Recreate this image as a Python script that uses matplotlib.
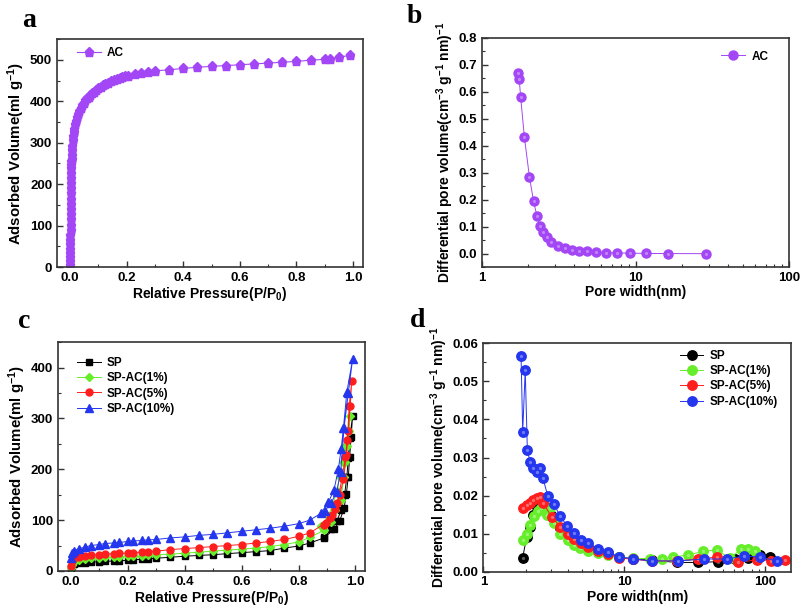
import matplotlib
matplotlib.use('Agg')
import matplotlib.pyplot as plt
from matplotlib import ticker

plt.rcParams['font.family'] = ['Liberation Sans', 'DejaVu Sans']
plt.rcParams['font.weight'] = 'bold'
plt.rcParams['axes.labelweight'] = 'bold'
plt.rcParams['mathtext.fontset'] = 'custom'
plt.rcParams['mathtext.rm'] = 'Liberation Sans:bold'
plt.rcParams['mathtext.bf'] = 'Liberation Sans:bold'
plt.rcParams['mathtext.default'] = 'rm'

# ---- panel a: AC isotherm ----
ac_p = [0.0002, 0.0004, 0.0006, 0.0008, 0.0010, 0.0012, 0.0014, 0.0016, 0.0018, 0.0020,
        0.0022, 0.0024, 0.0026, 0.0028, 0.0030, 0.0032, 0.0034, 0.0036, 0.0038, 0.0040,
        0.0043, 0.0046, 0.0050, 0.0055, 0.0060, 0.0070, 0.0080, 0.0095, 0.011, 0.013,
        0.015, 0.018, 0.021, 0.025, 0.029, 0.033, 0.038, 0.043, 0.048, 0.054,
        0.060, 0.066, 0.072, 0.078, 0.085, 0.092, 0.100, 0.108, 0.116, 0.125,
        0.135, 0.145, 0.155, 0.165, 0.175, 0.185, 0.195, 0.205, 0.23, 0.25,
        0.275, 0.30, 0.35, 0.40, 0.45, 0.50, 0.55, 0.60, 0.65, 0.70,
        0.75, 0.80, 0.85, 0.90, 0.92, 0.95, 0.99]
ac_v = [5, 15, 25, 35, 45, 55, 65, 78, 90, 102,
        115, 128, 140, 152, 165, 178, 190, 202, 215, 228,
        238, 246, 255, 262, 270, 282, 293, 306, 316, 326,
        334, 346, 353, 362, 370, 376, 383, 390, 396, 402,
        407, 411, 415, 419, 423, 427, 431, 435, 438, 441,
        445, 448, 451, 453, 456, 458, 460, 462, 466, 468,
        471, 473, 476, 479, 482, 484, 486, 488, 490, 492,
        494, 496, 499, 501, 503, 506, 511]

# ---- panel b: AC pore size distribution ----
ac_w = [1.72, 1.75, 1.79, 1.89, 2.04, 2.17, 2.28, 2.39, 2.51, 2.64, 2.82, 3.12, 3.48,
        3.84, 4.31, 4.81, 5.53, 6.38, 7.53, 9.19, 11.7, 16.2, 28.9]
ac_dv = [0.669, 0.649, 0.579, 0.434, 0.285, 0.195, 0.141, 0.103, 0.079, 0.062, 0.042,
         0.028, 0.021, 0.015, 0.011, 0.009, 0.006, 0.004, 0.003, 0.002, 0.001, 0.0005, 0.0]

# ---- panel c: SP composites isotherms (adsorption + desorption) ----
c_low_p = [0.001, 0.005, 0.01, 0.03, 0.05, 0.07, 0.10, 0.12, 0.15, 0.17, 0.20, 0.22, 0.25,
           0.27, 0.30, 0.35, 0.40, 0.45, 0.50, 0.55, 0.60, 0.65, 0.70, 0.75, 0.80]
sp_low = [5, 10, 13, 15, 16, 17.5, 18, 19, 19.5, 20, 21, 22, 23,
          23.5, 25, 27, 29, 30.5, 32, 34, 36, 38, 40, 45, 49]
ac1_low = [5, 12, 18, 21, 24, 25, 26, 27, 27, 28, 29, 29, 30,
           31, 32, 33, 35, 37, 39, 41, 43, 45, 48, 52, 57]
ac5_low = [10, 20, 25, 28, 30, 31, 32, 33, 34, 34.5, 35, 36, 37,
           38, 39, 42, 44, 46, 48, 50, 52, 55, 58, 62, 68]
ac10_low = [25, 35, 40, 44, 47, 50, 52, 54, 55, 56, 58, 59, 60,
            61, 62, 65, 67, 70, 72, 75, 78, 81, 84, 88, 93]

sp_hi_p = [0.84, 0.89, 0.925, 0.945, 0.96, 0.968, 0.975, 0.98, 0.985, 0.99,
           0.98, 0.975, 0.97, 0.962, 0.95, 0.935, 0.915, 0.89]
sp_hi = [55, 65, 82, 99, 123, 151, 185, 225, 264, 304,
         262, 222, 185, 150, 120, 98, 82, 66]
ac1_hi_p = [0.84, 0.89, 0.915, 0.93, 0.948, 0.96, 0.965, 0.97, 0.977, 0.98,
            0.975, 0.965, 0.955, 0.945, 0.935, 0.92, 0.905, 0.88]
ac1_hi = [66, 80, 97, 120, 139, 185, 215, 245, 275, 304,
          276, 245, 215, 185, 158, 130, 108, 88]
ac5_hi_p = [0.84, 0.895, 0.917, 0.936, 0.954, 0.965, 0.972, 0.978, 0.987,
            0.982, 0.975, 0.968, 0.958, 0.945, 0.93, 0.91, 0.89]
ac5_hi = [75, 94, 110, 133, 186, 225, 258, 324, 373,
          325, 276, 228, 180, 150, 122, 104, 90]
ac10_hi_p = [0.84, 0.892, 0.915, 0.934, 0.948, 0.96, 0.975, 0.99,
             0.97, 0.958, 0.95, 0.94, 0.925, 0.905, 0.88]
ac10_hi = [100, 118, 134, 155, 195, 281, 350, 416,
           352, 282, 240, 200, 160, 135, 115]

# ---- panel d: SP composites pore size distributions ----
sp_w = [1.90, 2.03, 2.14, 2.26, 2.39, 2.52, 2.64, 3.0, 3.17, 3.5, 3.91, 4.36, 4.91, 5.55,
        6.54, 7.7, 9.2, 11.6, 15.6, 23.5, 33.5, 46.4, 61, 75.7, 91.7, 108]
sp_dv = [0.0037, 0.0092, 0.0118, 0.0150, 0.0170, 0.0180, 0.0178, 0.0150, 0.0140, 0.0114,
         0.0102, 0.0085, 0.0075, 0.0065, 0.0055, 0.0048, 0.0038, 0.0033, 0.0030, 0.0024,
         0.0024, 0.0026, 0.0033, 0.0035, 0.0044, 0.0039]
ac1_w = [1.90, 2.03, 2.14, 2.29, 2.42, 2.55, 2.82, 2.97, 3.17, 3.5, 3.95, 4.36, 4.85, 5.55,
         6.45, 7.7, 9.2, 11.6, 15.2, 18.4, 22.3, 28.5, 36.3, 45.2, 56.2, 67.3, 75.8, 84.5]
ac1_dv = [0.0083, 0.0099, 0.0123, 0.0145, 0.0159, 0.0166, 0.0149, 0.0166, 0.0127, 0.0099,
          0.0083, 0.0070, 0.0062, 0.0053, 0.0048, 0.0044, 0.0038, 0.0035, 0.0034, 0.0033,
          0.0038, 0.0044, 0.0053, 0.0057, 0.0035, 0.0059, 0.0060, 0.0054]
ac5_w = [1.90, 2.03, 2.14, 2.26, 2.39, 2.52, 2.64, 3.05, 3.5, 3.95, 4.4, 4.9, 5.55, 6.5,
         7.7, 9.2, 11.6, 15.6, 23.5, 33.5, 45.2, 64.4, 86.9, 110, 138]
ac5_dv = [0.0168, 0.0174, 0.0180, 0.0188, 0.0193, 0.0197, 0.0181, 0.0144, 0.0118, 0.0099,
          0.0085, 0.0075, 0.0065, 0.0055, 0.0047, 0.0036, 0.0032, 0.0028, 0.0028, 0.0033,
          0.0038, 0.0024, 0.0031, 0.0029, 0.0030]
ac10_w = [1.85, 1.90, 1.98, 2.05, 2.14, 2.26, 2.39, 2.52, 2.64, 2.86, 3.17, 3.50, 3.91,
          4.36, 4.91, 5.55, 6.54, 7.7, 9.2, 11.6, 15.6, 24.2, 36.9, 53.2, 70.6, 91.7, 120.5]
ac10_dv = [0.0567, 0.0368, 0.0530, 0.0320, 0.0289, 0.0272, 0.0263, 0.0272, 0.0247, 0.0199,
           0.0177, 0.0146, 0.0121, 0.0101, 0.0083, 0.0075, 0.0059, 0.0051, 0.0039, 0.0033,
           0.0028, 0.0028, 0.0033, 0.0033, 0.0041, 0.0038, 0.0028]

purple = '#a346f5'
black, green, red, blue = '#000000', '#66ee2a', '#ff1e1e', '#2436ee'

fig = plt.figure(figsize=(8.03, 6.10), dpi=100)
ax_a = fig.add_axes([0.071, 0.562, 0.381, 0.374])
ax_b = fig.add_axes([0.600, 0.562, 0.383, 0.376])
ax_c = fig.add_axes([0.072, 0.064, 0.383, 0.375])
ax_d = fig.add_axes([0.602, 0.063, 0.383, 0.374])


def style(ax):
    for sp in ax.spines.values():
        sp.set_color('#333333')
        sp.set_linewidth(1.2)
    ax.tick_params(which='both', direction='in', labelsize=9.5, color='#333333',
                   top=False, right=False)
    ax.tick_params(which='major', length=4, width=1)
    ax.tick_params(which='minor', length=2.5, width=0.8)


lab_fs = 10
iso_fs = 10.8
leg_fs = 8.5
iso_x = 'Relative Pressure(P/P$_0$)'
iso_y = 'Adsorbed Volume(ml g$^{-1}$)'
psd_x = 'Pore width(nm)'
psd_y = 'Differential pore volume(cm$^{-3}$ g$^{-1}$ nm)$^{-1}$'
leg_kw = dict(frameon=False, fontsize=leg_fs, borderaxespad=0, handlelength=2.0,
              handletextpad=0.55, labelspacing=0.28)


def sphere(ax, x, y, col, ms, **kw):
    # shaded-ball look: base marker plus a small pale highlight
    ax.plot(x, y, '-o', color=col, ms=ms, lw=0.7, **kw)
    ax.plot(x, y, 'o', color='white', alpha=0.35, ms=ms * 0.35, lw=0,
            markeredgewidth=0)


# a
ax_a.plot(ac_p, ac_v, '-p', color=purple, ms=6.5, lw=0.8, label='AC')
ax_a.set_xlim(-0.046, 1.035)
ax_a.set_ylim(0, 550)
ax_a.xaxis.set_major_locator(ticker.MultipleLocator(0.2))
ax_a.xaxis.set_minor_locator(ticker.MultipleLocator(0.1))
ax_a.yaxis.set_major_locator(ticker.MultipleLocator(100))
ax_a.yaxis.set_minor_locator(ticker.MultipleLocator(50))
ax_a.set_xlabel(iso_x, fontsize=lab_fs, labelpad=1)
ax_a.set_ylabel(iso_y, fontsize=iso_fs, labelpad=2)
style(ax_a)
ax_a.legend(loc='upper left', bbox_to_anchor=(0.05, 0.984), **leg_kw)

# b
sphere(ax_b, ac_w, ac_dv, purple, 6.5, label='AC')
ax_b.set_xscale('log')
ax_b.set_xlim(1, 100)
ax_b.set_ylim(-0.05, 0.8)
ax_b.yaxis.set_major_locator(ticker.MultipleLocator(0.1))
ax_b.yaxis.set_minor_locator(ticker.MultipleLocator(0.05))
ax_b.xaxis.set_major_formatter(ticker.FuncFormatter(lambda v, p: f'{v:g}'))
ax_b.set_xlabel(psd_x, fontsize=lab_fs, labelpad=1)
ax_b.set_ylabel(psd_y, fontsize=lab_fs, labelpad=2)
style(ax_b)
ax_b.legend(loc='upper right', bbox_to_anchor=(0.947, 0.965), **leg_kw)

# c
series_c = [
    ('SP', sp_low, sp_hi_p, sp_hi, black, 's', 4.5),
    ('SP-AC(1%)', ac1_low, ac1_hi_p, ac1_hi, green, 'D', 4.5),
    ('SP-AC(5%)', ac5_low, ac5_hi_p, ac5_hi, red, 'o', 5),
    ('SP-AC(10%)', ac10_low, ac10_hi_p, ac10_hi, blue, '^', 5.5),
]
for name, low, hp, hv, col, mk, ms in series_c:
    ax_c.plot(c_low_p + hp, low + hv, '-', marker=mk, color=col, ms=ms, lw=0.7,
              label=name)
ax_c.set_xlim(-0.046, 1.035)
ax_c.set_ylim(0, 450)
ax_c.xaxis.set_major_locator(ticker.MultipleLocator(0.2))
ax_c.xaxis.set_minor_locator(ticker.MultipleLocator(0.1))
ax_c.yaxis.set_major_locator(ticker.MultipleLocator(100))
ax_c.yaxis.set_minor_locator(ticker.MultipleLocator(50))
ax_c.set_xlabel(iso_x, fontsize=lab_fs, labelpad=1)
ax_c.set_ylabel(iso_y, fontsize=iso_fs, labelpad=2)
style(ax_c)
ax_c.legend(loc='upper left', bbox_to_anchor=(0.047, 0.956), **leg_kw)

# d
series_d = [
    ('SP', sp_w, sp_dv, black),
    ('SP-AC(1%)', ac1_w, ac1_dv, green),
    ('SP-AC(5%)', ac5_w, ac5_dv, red),
    ('SP-AC(10%)', ac10_w, ac10_dv, blue),
]
for name, w, dv, col in series_d:
    sphere(ax_d, w, dv, col, 6.8, label=name)
ax_d.set_xscale('log')
ax_d.set_xlim(1, 152)
ax_d.set_ylim(0, 0.06)
ax_d.yaxis.set_major_locator(ticker.MultipleLocator(0.01))
ax_d.yaxis.set_minor_locator(ticker.MultipleLocator(0.005))
ax_d.yaxis.set_major_formatter(ticker.FormatStrFormatter('%.2f'))
ax_d.xaxis.set_major_formatter(ticker.FuncFormatter(lambda v, p: f'{v:g}'))
ax_d.set_xlabel(psd_x, fontsize=lab_fs, labelpad=1)
ax_d.set_ylabel(psd_y, fontsize=lab_fs, labelpad=2)
style(ax_d)
ax_d.legend(loc='upper right', bbox_to_anchor=(0.974, 0.993), **leg_kw)

for letter, x, y in [('a', 0.027, 0.955), ('b', 0.507, 0.962), ('c', 0.022, 0.462),
                     ('d', 0.510, 0.464)]:
    fig.text(x, y, letter, fontsize=20, fontweight='bold',
             family='Liberation Serif', va='baseline')

fig.savefig('out.png', dpi=100)
